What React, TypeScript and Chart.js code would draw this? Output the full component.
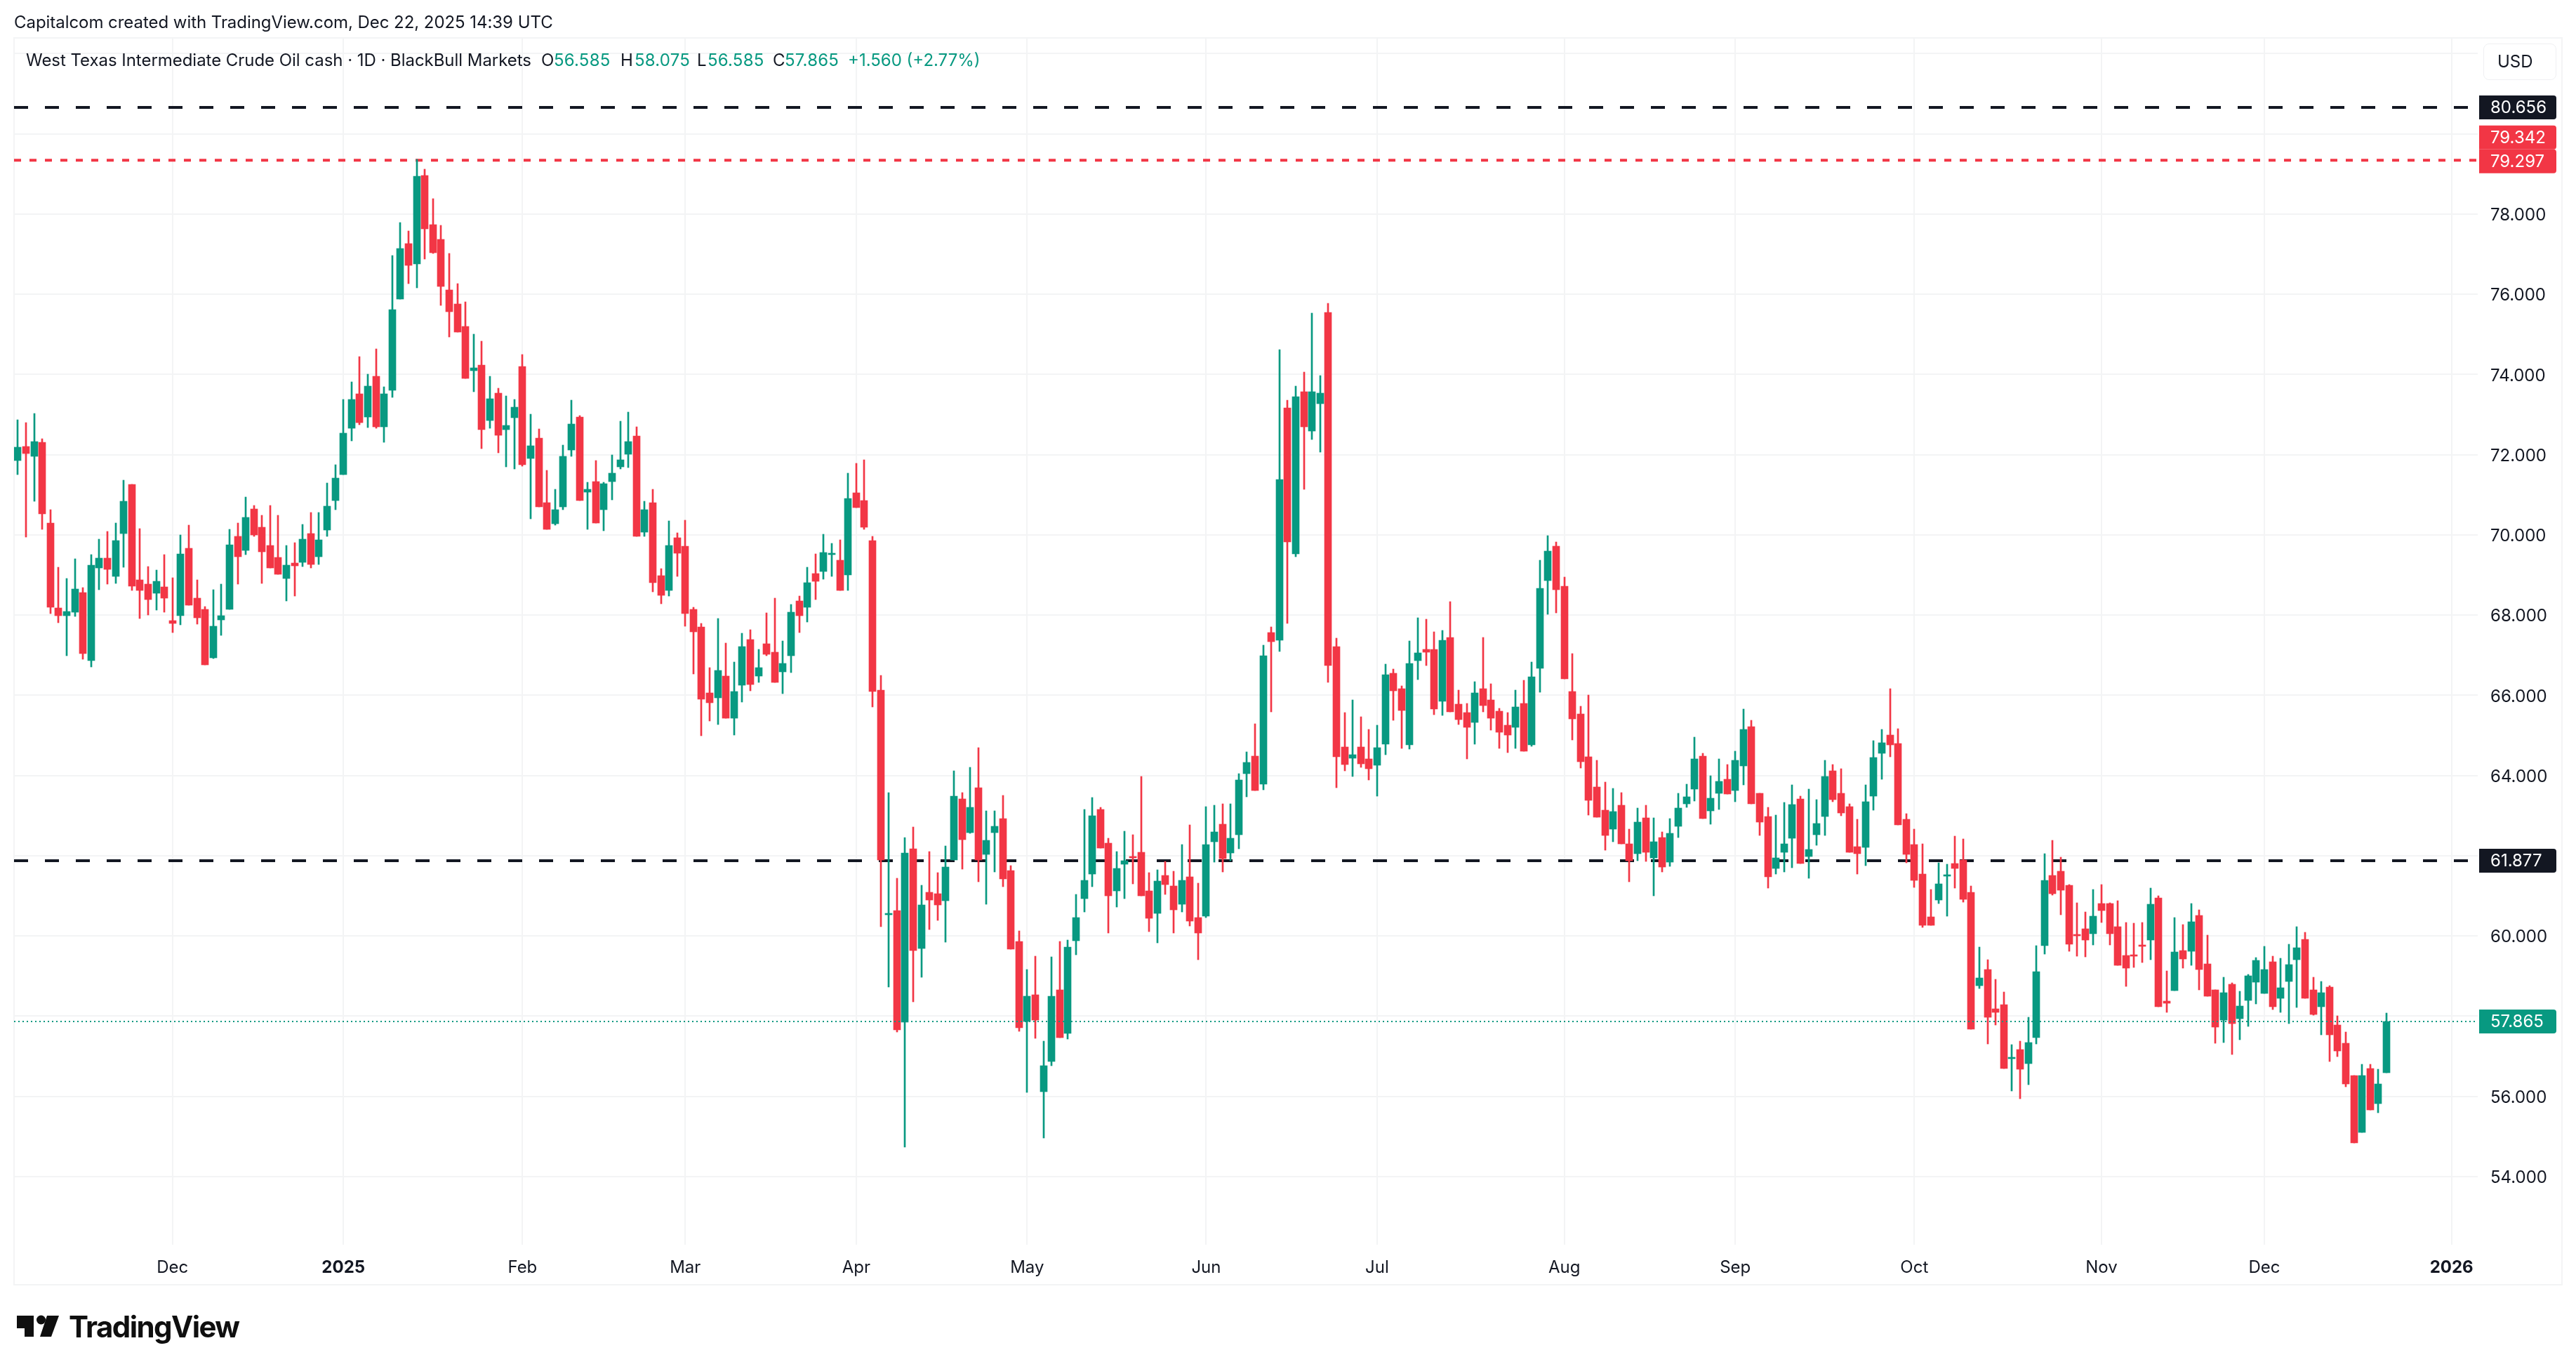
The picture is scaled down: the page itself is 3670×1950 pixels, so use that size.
import React, { useRef, useEffect } from 'react';
import { Chart, registerables } from 'chart.js';

Chart.register(...registerables);

const opens = [
  71.86,72.20,71.95,72.30,70.29,68.18,67.99,68.08,68.56,66.87,
  69.18,69.42,68.96,70.04,71.26,68.87,68.77,68.55,68.70,67.87,
  67.99,69.66,68.42,68.14,66.94,67.88,68.15,69.96,69.62,70.64,
  70.19,69.73,69.44,68.92,69.30,69.32,70.03,69.45,70.12,70.85,
  71.51,72.66,73.51,72.93,73.96,72.70,73.61,75.87,77.26,76.76,
  78.96,77.73,77.37,76.10,75.75,75.19,74.09,74.23,72.85,73.54,
  72.63,72.92,74.19,71.90,72.42,70.81,70.28,70.70,72.12,72.93,
  71.06,71.33,70.63,71.32,71.70,72.01,72.46,70.06,70.81,68.99,
  68.62,69.92,69.72,68.15,67.71,66.06,65.94,66.47,65.43,66.25,
  67.39,66.47,67.28,67.08,66.58,66.98,68.36,68.20,69.03,69.09,
  69.52,69.36,69.00,71.05,70.86,69.85,66.13,60.54,60.64,57.85,
  62.18,59.69,61.08,61.06,60.87,61.89,63.41,62.57,63.69,62.03,
  62.57,62.92,61.63,59.87,57.86,58.54,56.12,56.86,58.66,57.57,
  59.88,60.93,61.54,63.16,62.32,61.12,61.79,61.98,62.08,61.13,
  60.56,61.50,61.25,60.79,61.48,60.45,60.49,62.34,62.79,62.06,
  62.53,64.04,64.49,63.79,67.57,67.38,73.17,69.53,73.57,72.59,
  73.27,75.54,67.22,64.71,64.43,64.71,64.42,64.26,64.78,66.54,
  66.17,64.76,66.87,67.15,67.15,65.85,67.45,65.77,65.56,65.32,
  66.17,65.88,65.61,65.26,65.20,65.80,64.76,66.67,68.86,69.72,
  68.72,66.10,65.54,64.47,63.71,63.14,62.67,63.25,62.29,62.05,
  62.95,61.95,62.46,61.84,62.73,63.30,63.66,64.49,63.12,63.55,
  63.91,63.62,64.23,65.21,63.56,62.97,61.68,62.09,62.43,63.41,
  61.98,62.52,62.98,64.12,63.56,63.23,62.23,62.20,63.48,64.55,
  65.00,64.80,62.91,62.27,61.55,60.47,60.89,61.51,61.81,61.90,
  61.08,58.76,59.16,58.19,58.28,56.94,57.17,56.81,57.47,59.76,
  61.51,61.61,61.26,60.04,60.18,60.06,60.81,60.81,60.23,59.51,
  59.53,59.77,59.89,60.95,58.38,58.63,59.64,59.62,60.51,59.30,
  58.66,57.91,58.80,57.93,58.40,58.84,58.56,59.36,58.44,58.87,
  59.41,59.92,58.66,58.23,58.73,57.78,57.33,56.51,55.10,56.70,55.82,56.585,
];
const closes = [
  72.18,72.02,72.32,70.53,68.20,67.99,68.09,68.65,67.04,69.24,
  69.42,69.14,69.86,70.84,68.72,68.62,68.39,68.84,68.43,67.79,
  69.53,68.25,67.94,66.75,67.72,67.98,69.75,69.45,70.43,70.00,
  69.58,69.18,69.01,69.24,69.23,69.89,69.27,69.87,70.71,71.41,
  72.54,73.37,72.79,73.71,72.70,73.51,75.62,77.13,76.72,78.94,
  77.63,77.03,76.20,75.56,75.05,73.90,74.16,72.62,73.40,72.48,
  72.73,73.19,71.74,72.22,70.70,70.13,70.63,71.96,72.77,70.85,
  71.14,70.30,71.27,71.54,71.87,72.33,69.96,70.62,68.80,68.49,
  69.74,69.55,68.04,67.58,65.90,65.81,66.61,65.43,66.10,67.22,
  66.27,66.68,67.02,66.32,66.80,68.08,67.98,68.81,68.84,69.56,
  69.54,68.62,70.91,70.68,70.19,66.09,61.89,60.56,57.66,62.06,
  59.63,60.77,60.89,60.78,61.72,63.49,62.40,63.20,61.89,62.39,
  62.74,61.42,59.67,57.71,58.49,57.90,56.76,58.49,57.46,59.73,
  60.45,61.39,63.00,62.19,61.00,61.69,61.87,61.96,61.00,60.44,
  61.36,61.28,60.65,61.39,60.37,60.07,62.27,62.60,61.92,62.43,
  63.89,64.33,63.62,66.99,67.34,71.38,69.82,73.44,72.69,73.57,
  73.54,66.74,64.46,64.28,64.51,64.29,64.17,64.69,66.52,66.11,
  65.62,66.79,67.06,67.07,65.65,67.38,65.59,65.39,65.20,66.06,
  65.74,65.43,65.08,65.01,65.71,64.61,66.46,68.67,69.60,68.63,
  66.41,65.41,64.34,63.38,62.96,62.51,63.10,62.29,61.87,62.84,
  62.09,62.34,61.72,62.56,63.18,63.46,64.41,62.92,63.44,63.86,
  63.54,64.37,65.14,63.30,62.84,61.47,61.95,62.30,63.28,61.80,
  62.15,62.81,63.98,63.40,63.06,62.09,62.05,63.34,64.45,64.82,
  64.76,62.77,62.03,61.38,60.27,60.27,61.29,61.52,61.68,60.91,
  57.67,58.96,57.98,58.09,56.69,56.98,56.67,57.34,59.11,61.38,
  61.06,61.14,59.80,60.01,59.89,60.49,60.64,60.06,59.27,59.19,
  59.50,59.75,60.79,58.23,58.33,59.60,59.43,60.35,59.17,58.49,
  57.72,58.59,57.81,58.26,59.01,59.39,59.16,58.23,58.71,59.29,
  59.71,58.45,58.05,58.59,57.54,57.13,56.30,54.84,56.51,55.66,56.30,57.865,
];
const highs = [
  72.87,72.79,73.03,72.39,70.63,69.19,68.91,69.40,68.68,69.51,
  69.89,70.08,70.29,71.36,71.26,70.15,69.21,69.12,69.51,68.93,
  69.99,70.24,68.87,68.21,68.63,68.77,70.13,70.29,70.94,70.73,
  70.48,70.73,70.48,69.73,69.80,70.26,70.55,70.55,71.29,71.74,
  73.37,73.81,74.44,74.00,74.63,73.69,76.97,77.79,77.57,79.37,
  79.12,78.39,77.71,77.01,76.26,75.80,75.00,74.82,73.96,73.66,
  73.46,73.37,74.50,73.00,72.64,71.60,71.14,72.24,73.35,72.98,
  71.31,71.86,71.31,72.00,72.84,73.06,72.70,70.83,71.14,69.16,
  70.34,70.05,70.36,68.20,67.79,66.68,67.92,67.30,66.82,67.55,
  67.64,67.15,68.05,68.43,67.36,68.27,68.48,69.20,69.52,70.02,
  69.78,69.87,71.54,71.79,71.87,69.96,66.50,63.58,61.43,62.45,
  62.72,61.27,62.11,61.57,62.25,64.12,63.58,64.21,64.69,63.11,
  63.12,63.51,61.76,60.12,59.17,59.50,57.38,59.48,59.87,59.89,
  61.04,63.16,63.45,63.21,62.43,62.11,62.61,62.52,63.98,61.57,
  61.64,61.85,61.62,62.27,62.76,61.32,63.23,63.25,63.30,63.29,
  64.05,64.58,65.29,67.24,67.71,74.61,73.35,73.70,74.06,75.52,
  73.97,75.78,67.43,65.56,65.88,65.47,65.15,65.26,66.77,66.66,
  66.24,67.36,67.94,67.90,67.59,67.61,68.34,66.12,65.80,66.33,
  67.45,66.28,65.68,65.56,66.13,66.37,66.82,69.36,69.98,69.83,
  68.94,67.03,65.73,66.00,64.38,63.84,63.67,63.58,62.66,63.19,
  63.25,62.95,62.59,62.93,63.56,63.79,64.95,64.56,64.00,64.42,
  64.28,64.61,65.66,65.38,63.56,63.20,63.02,63.32,63.76,63.49,
  63.66,63.39,64.38,64.28,64.16,63.30,62.91,63.77,64.87,65.14,
  66.17,65.17,63.04,62.67,62.29,61.15,61.83,61.78,62.48,62.42,
  61.25,59.73,59.40,58.92,58.61,57.28,57.38,57.98,59.76,62.05,
  62.38,61.96,61.28,60.82,60.60,61.16,61.28,60.82,60.88,60.33,
  60.32,60.33,61.19,61.00,59.13,60.46,60.28,60.81,60.65,60.02,
  58.66,58.97,58.83,58.62,59.04,59.46,59.74,59.50,59.44,59.79,
  60.23,60.09,58.97,58.87,58.76,58.01,57.61,56.51,56.79,56.79,56.68,58.075,
];
const lows = [
  71.51,69.94,70.83,70.14,68.03,67.81,66.99,67.96,66.89,66.70,
  68.64,68.78,68.79,69.20,68.62,67.92,68.01,68.12,68.08,67.57,
  67.75,68.25,67.77,66.75,66.91,67.50,68.15,68.78,69.50,69.97,
  68.79,69.18,69.01,68.36,68.48,69.21,69.18,69.27,69.96,70.63,
  71.51,72.35,72.75,72.68,72.66,72.31,73.42,75.87,76.27,76.16,
  76.88,77.01,75.72,74.93,75.05,73.90,73.57,72.15,72.65,72.04,
  71.70,71.65,71.71,70.40,70.70,70.13,70.25,70.63,71.96,70.85,
  70.13,70.30,70.10,70.87,71.65,71.68,69.96,69.96,68.58,68.28,
  68.47,68.97,67.72,66.53,64.99,65.36,65.27,65.43,65.00,65.83,
  66.11,66.32,66.99,66.32,66.04,66.56,67.56,67.82,68.38,68.89,
  68.96,68.62,68.62,70.68,70.13,65.71,60.23,58.72,57.61,54.73,
  58.36,58.97,60.16,60.38,59.85,61.89,61.67,62.55,61.35,60.79,
  61.60,61.23,59.67,57.62,56.10,57.45,54.96,56.77,57.46,57.43,
  59.53,60.60,61.23,62.19,60.07,60.72,60.93,61.29,61.00,60.11,
  59.83,61.03,60.07,60.60,60.25,59.41,60.45,61.84,61.60,61.88,
  62.18,63.47,63.62,63.65,65.59,67.09,67.80,69.46,71.13,72.38,
  72.06,66.32,63.70,64.12,63.97,64.21,63.88,63.49,64.52,65.38,
  64.68,64.66,66.39,66.74,65.52,65.50,65.59,65.27,64.41,64.78,
  65.59,65.13,64.68,64.57,64.68,64.61,64.72,66.07,68.02,68.05,
  66.41,64.88,64.19,63.01,62.96,62.13,62.35,62.29,61.35,61.87,
  61.86,61.00,61.59,61.73,62.45,63.20,63.37,62.92,62.78,63.15,
  63.54,63.34,63.77,63.30,62.50,61.19,61.54,61.59,61.70,61.80,
  61.44,62.26,62.50,63.34,62.99,62.09,61.55,61.75,63.13,63.91,
  64.46,62.77,61.82,61.21,60.21,60.27,60.80,60.49,61.19,60.84,
  57.67,58.69,57.30,57.78,56.69,56.13,55.94,56.29,57.30,59.55,
  61.02,60.52,59.61,59.50,59.48,59.78,60.34,59.78,59.27,58.75,
  59.22,59.33,59.40,58.23,58.09,58.63,59.20,59.26,58.65,58.49,
  57.32,57.35,57.04,57.41,57.75,58.31,58.56,58.16,58.09,57.81,
  58.21,58.45,58.02,57.54,56.86,56.99,56.23,54.84,55.10,55.66,55.59,56.585,
];

// month labels sit on the first bar of each month
const monthBars = [19, 40, 62, 82, 103, 124, 146, 167, 190, 211, 233, 256, 276, 299];
const monthLabels = ['Dec', '2025', 'Feb', 'Mar', 'Apr', 'May', 'Jun', 'Jul', 'Aug', 'Sep', 'Oct', 'Nov', 'Dec', '2026'];
const yearLabels = ['2025', '2026'];

const priceTicks = [54, 56, 58, 60, 62, 64, 66, 68, 70, 72, 74, 76, 78, 80, 82];
const hiddenPriceLabels = [58, 62, 80, 82]; // covered by the tags, or simply not shown

const resistanceTop = 80.656;
const resistanceHigh = 79.342;
const resistanceLow = 61.877;
const lastPrice = 57.865;

const GREEN = '#089981';
const RED = '#F23645';
const DARK = '#131722';
const GRID = '#f3f4f5';
const FONT = 'Inter, "Noto Sans", sans-serif';

const tagValues = [resistanceTop, 79.297, 79.297, resistanceLow, lastPrice];
const tagTexts = ['80.656', '79.342', '79.297', '61.877', '57.865'];
const tagColors = [DARK, RED, RED, DARK, GREEN];
const tagShifts = [0, -35, -1, 0, 0];

const X_MIN = -0.466;
const X_MAX = 302.22;

const framePlugin = {
  id: 'frame',
  beforeDraw(chart: any) {
    const c = chart.ctx;
    c.save();
    c.strokeStyle = GRID;
    c.lineWidth = 2;
    c.strokeRect(20, 54, 3630, 1776);
    c.restore();
  },
};

// snap the candles to whole pixels so they stay crisp like the original
const snapPlugin = {
  id: 'snap',
  beforeDatasetsDraw(chart: any) {
    chart.data.datasets.forEach((ds: any, i: number) => {
      if (ds.type === 'line') return;
      chart.getDatasetMeta(i).data.forEach((bar: any) => {
        bar.x = Math.round(bar.x);
        const top = Math.round(Math.min(bar.y, bar.base));
        const bottom = Math.round(Math.max(bar.y, bar.base));
        bar.y = top;
        bar.base = Math.max(bottom, top + 2);
      });
    });
  },
};

const tagsPlugin = {
  id: 'tags',
  afterDraw(chart: any) {
    const c = chart.ctx;
    const y = chart.scales.y;
    c.save();
    c.font = '24px ' + FONT;
    c.textBaseline = 'middle';
    c.textAlign = 'left';
    tagValues.forEach((v, i) => {
      const py = y.getPixelForValue(v) + tagShifts[i];
      c.fillStyle = tagColors[i];
      c.beginPath();
      c.roundRect(3532, py - 17, 110, 34, [0, 4, 4, 0]);
      c.fill();
      c.fillStyle = '#fff';
      c.fillText(tagTexts[i], 3548, py + 1);
    });
    c.restore();
  },
};

const levelLine = (value: number, color: string, dash: number[], width: number, order: number) => ({
  type: 'line',
  data: [{ x: X_MIN, y: value }, { x: X_MAX, y: value }],
  borderColor: color,
  borderWidth: width,
  borderDash: dash,
  pointRadius: 0,
  order,
});

const Chartjs = () => {
  const canvasRef = useRef<any>(null);
  const chartRef = useRef<any>(null);

  useEffect(() => {
    document.body.style.margin = '0';
    document.body.style.background = '#fff';
    if (canvasRef.current) {
      const ctx = canvasRef.current.getContext('2d');
      if (chartRef.current) {
        chartRef.current.destroy();
      }
      const candleColors = closes.map((c, i) => (c >= opens[i] ? GREEN : RED));

      chartRef.current = new Chart(ctx, {
        type: 'bar',
        data: {
          datasets: [
            levelLine(lastPrice, GREEN, [2, 4], 2, 0) as any,
            {
              label: 'bodies',
              data: opens.map((o, i) => ({ x: i, y: [o, closes[i]] })) as any,
              backgroundColor: candleColors,
              barThickness: 10,
              grouped: false,
              order: 1,
            },
            {
              label: 'wicks',
              data: lows.map((l, i) => ({ x: i, y: [l, highs[i]] })) as any,
              backgroundColor: candleColors,
              barThickness: 2,
              grouped: false,
              order: 2,
            },
            levelLine(resistanceTop, DARK, [20, 24], 4, 3) as any,
            levelLine(resistanceHigh, RED, [10, 12], 4, 3) as any,
            levelLine(resistanceLow, DARK, [20, 24], 4, 3) as any,
          ],
        },
        options: {
          responsive: false,
          animation: false,
          devicePixelRatio: 1,
          layout: { padding: { left: 20, top: 54, right: 20, bottom: 120 } },
          plugins: { legend: { display: false }, tooltip: { enabled: false } },
          scales: {
            x: {
              type: 'linear',
              offset: false,
              min: X_MIN,
              max: X_MAX,
              afterBuildTicks: (axis: any) => {
                axis.ticks = monthBars.map((v) => ({ value: v }));
              },
              afterFit: (axis: any) => {
                axis.height = 57;
              },
              border: { display: false },
              // bar charts shift the grid by default, keep it on the month bars
              grid: { color: GRID, lineWidth: 2, drawTicks: false, offset: false },
              ticks: {
                autoSkip: false,
                maxRotation: 0,
                padding: 18,
                color: DARK,
                font: (c: any) => {
                  const bold = c.tick && yearLabels.includes(monthLabels[monthBars.indexOf(c.tick.value)]);
                  return { family: FONT, size: 24, weight: bold ? 'bold' : 'normal' };
                },
                callback: (v: any) => monthLabels[monthBars.indexOf(v)],
              },
            },
            y: {
              position: 'right',
              min: 52.3,
              max: 82.39,
              afterBuildTicks: (axis: any) => {
                axis.ticks = priceTicks.map((v) => ({ value: v }));
              },
              afterFit: (axis: any) => {
                axis.width = 120;
              },
              border: { display: false },
              grid: { color: GRID, lineWidth: 2, drawTicks: false },
              ticks: {
                padding: 18,
                color: DARK,
                // the blank first line with this line height nudges the label 2px down
                font: { family: FONT, size: 24, lineHeight: '4px' },
                callback: (v: any) => (hiddenPriceLabels.includes(v) ? '' : ['', v.toFixed(3)]),
              },
            },
          },
        },
        plugins: [framePlugin, snapPlugin, tagsPlugin],
      } as any);
    }

    return () => {
      if (chartRef.current) {
        chartRef.current.destroy();
      }
    };
  }, []);

  const text: React.CSSProperties = {
    position: 'absolute',
    whiteSpace: 'nowrap',
    fontFamily: FONT,
    fontSize: 24,
    lineHeight: '32px',
    color: DARK,
  };

  return (
    <div style={{ position: 'absolute', left: 0, top: 0, width: 3670, height: 1950, background: '#fff', overflow: 'hidden' }}>
      <canvas ref={canvasRef} width={3670} height={1950} style={{ display: 'block', width: 3670, height: 1950 }} />
      <div style={{ ...text, left: 20, top: 16, letterSpacing: -0.05 }}>Capitalcom created with TradingView.com, Dec 22, 2025 14:39 UTC</div>
      <div style={{ ...text, left: 37, top: 70, letterSpacing: -0.04 }}>West Texas Intermediate Crude Oil cash · 1D · BlackBull Markets</div>
      <div style={{ ...text, left: 771, top: 70 }}>O</div>
      <div style={{ ...text, left: 789, top: 70, color: GREEN, letterSpacing: 0.2 }}>56.585</div>
      <div style={{ ...text, left: 884, top: 70 }}>H</div>
      <div style={{ ...text, left: 904, top: 70, color: GREEN, letterSpacing: 0.2 }}>58.075</div>
      <div style={{ ...text, left: 993, top: 70 }}>L</div>
      <div style={{ ...text, left: 1008, top: 70, color: GREEN, letterSpacing: 0.2 }}>56.585</div>
      <div style={{ ...text, left: 1101, top: 70 }}>C</div>
      <div style={{ ...text, left: 1118, top: 70, color: GREEN, letterSpacing: 0.2 }}>57.865</div>
      <div style={{ ...text, left: 1208, top: 70, color: GREEN }}>+1.560 (+2.77%)</div>
      <div
        style={{
          ...text,
          left: 3538,
          top: 62,
          width: 83,
          height: 50,
          paddingLeft: 19,
          lineHeight: '50px',
          border: '1px solid #eff0f2',
          borderRadius: 8,
        }}
      >
        USD
      </div>
      <svg style={{ position: 'absolute', left: 0, top: 0 }} width={120} height={1950} viewBox="0 0 120 1950">
        <path d="M24 1874H48V1904H35V1892H24Z" fill="#0f0f0f" />
        <circle cx={58.5} cy={1880} r={6.5} fill="#0f0f0f" />
        <path d="M67 1874H84L73 1904H57Z" fill="#0f0f0f" />
      </svg>
      <div style={{ ...text, left: 98, top: 1864, fontSize: 42, lineHeight: '52px', fontWeight: 700, letterSpacing: -1.6, color: '#0f0f0f' }}>TradingView</div>
    </div>
  );
};

export default Chartjs;
